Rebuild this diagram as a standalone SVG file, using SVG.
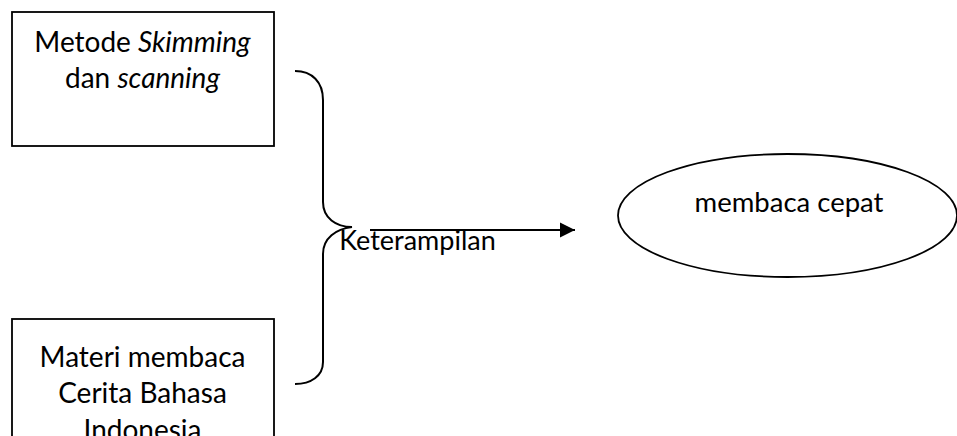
<svg xmlns="http://www.w3.org/2000/svg" width="957" height="436" viewBox="0 0 957 436">
<style>
.box{fill:#fff;stroke:#000;stroke-width:1.8}
.t{font-family:Lato,"Open Sans","Liberation Sans",sans-serif;font-size:28px;fill:#000;text-anchor:middle}
.c{fill:none;stroke:#000;stroke-width:2}
</style>
<defs>
<marker id="ah" markerWidth="16" markerHeight="16" refX="15" refY="8" orient="auto" markerUnits="userSpaceOnUse">
<path d="M0,0.5 L15,8 L0,15.5 Z" fill="#000"/>
</marker>
</defs>
<rect width="957" height="436" fill="#fff"/>
<g id="node-metode">
<rect class="box" x="12" y="12" width="262" height="134"/>
<text class="t" x="142.5" y="51.5">Metode <tspan font-style="italic">Skimming</tspan></text>
<text class="t" x="142.5" y="88">dan <tspan font-style="italic">scanning</tspan></text>
</g>
<g id="node-materi">
<rect class="box" x="12" y="319" width="262" height="140"/>
<text class="t" x="142.5" y="366.5">Materi membaca</text>
<text class="t" x="142.5" y="403">Cerita Bahasa</text>
<text class="t" x="142.5" y="440">Indonesia</text>
</g>
<g id="node-membaca">
<ellipse class="box" cx="787.5" cy="215.5" rx="169.5" ry="61.5"/>
<text class="t" x="789" y="212" style="font-size:27.5px">membaca cepat</text>
</g>
<g id="connectors">
<path class="c" d="M295,71 C312,71 323,82 323,100 L323,202 C323,218 336,227 352,227 C336,229 323,238 323,254 L323,362 C323,376 311,384 295,384"/>
<line class="c" x1="370" y1="230" x2="575" y2="230" marker-end="url(#ah)"/>
<text class="t" x="417.5" y="250" style="font-size:27px">Keterampilan</text>
</g>
</svg>
